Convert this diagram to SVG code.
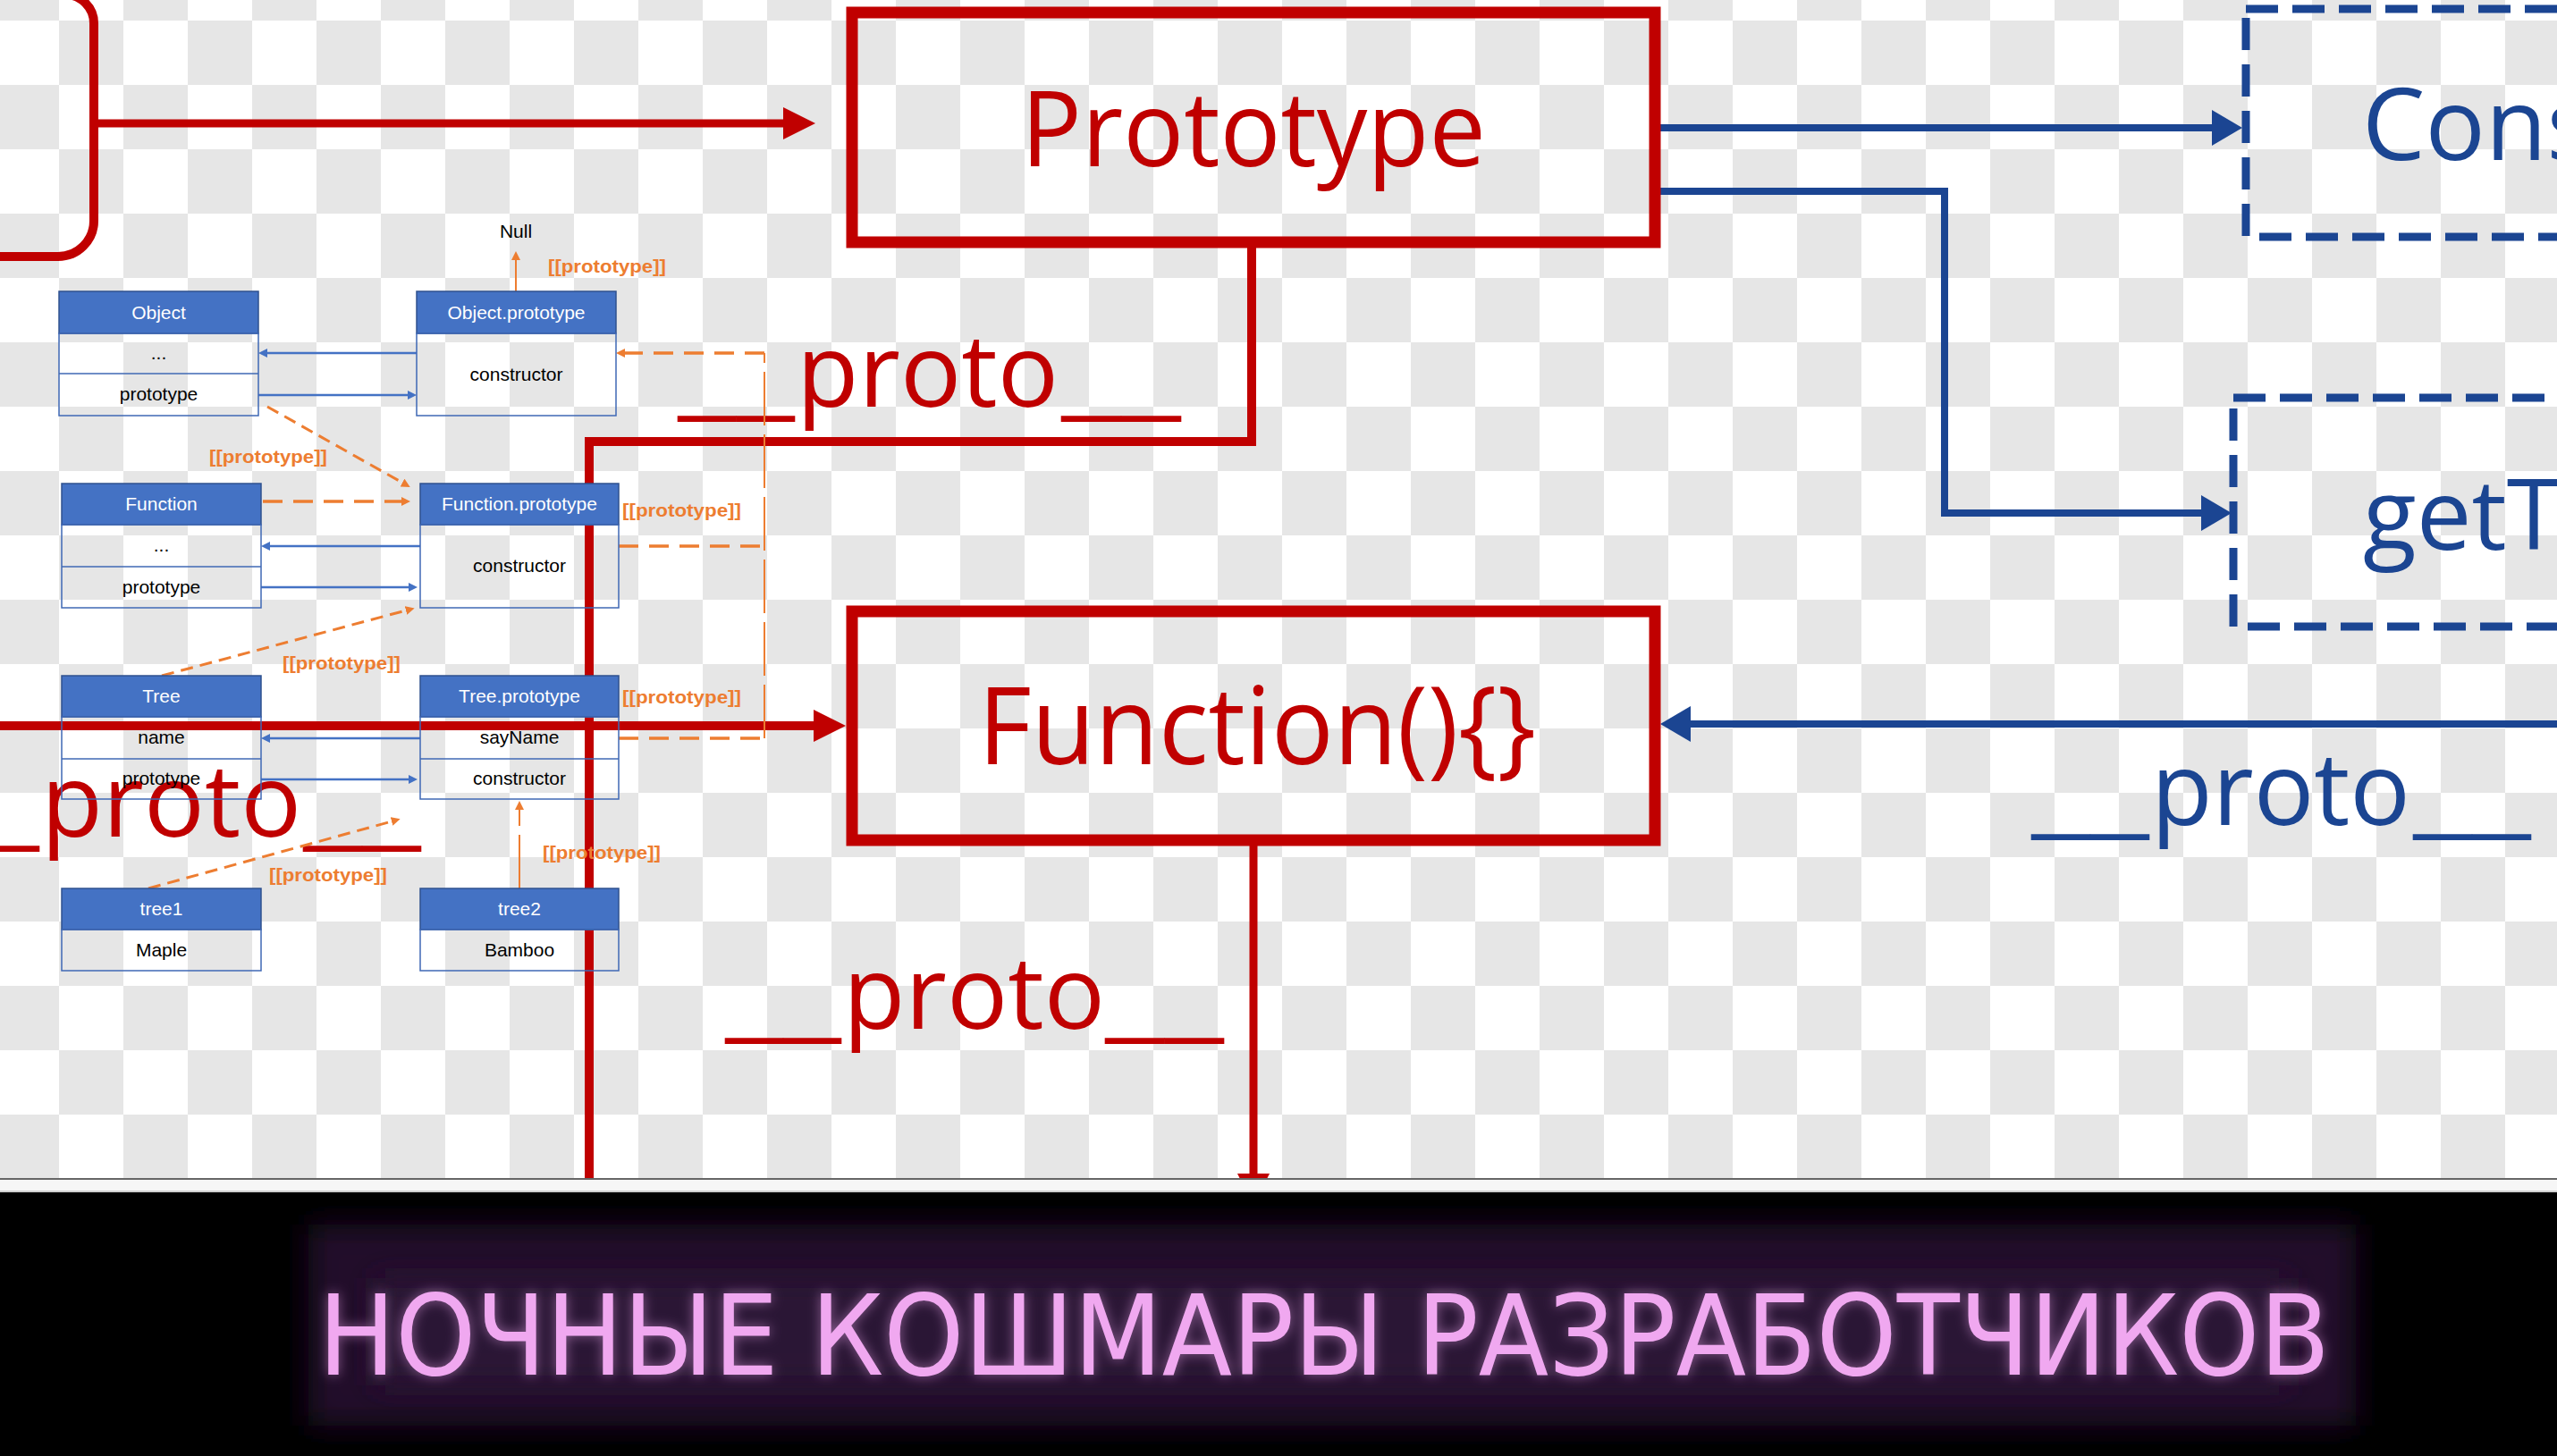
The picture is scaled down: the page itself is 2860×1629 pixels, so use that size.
<svg xmlns="http://www.w3.org/2000/svg" width="2860" height="1629" viewBox="0 0 2860 1629">
<defs>
<style>
.red{fill:none;stroke:#C00000}
.blu{fill:none;stroke:#1B4592}
.hd{fill:#4472C4;stroke:#2F528F;stroke-width:1.5}
.bd{fill:none;stroke:#3F68B5;stroke-width:1.5}
.ht{font-family:"Liberation Sans",Arial,sans-serif;font-size:21px;fill:#fff;text-anchor:middle}
.ct{font-family:"Liberation Sans",Arial,sans-serif;font-size:21px;fill:#000;text-anchor:middle}
.lb{font-family:"Liberation Sans",Arial,sans-serif;font-weight:bold;font-size:21px;fill:#ED7D31}
.oa{fill:none;stroke:#ED7D31;stroke-width:3;stroke-dasharray:14 8}
.ov{fill:none;stroke:#ED7D31;stroke-width:2;stroke-dasharray:60 10}
.oh{fill:none;stroke:#ED7D31;stroke-width:3.5;stroke-dasharray:22 12}
.ba{fill:none;stroke:#4472C4;stroke-width:2.5}
.big{font-family:"Open Sans","Noto Sans",sans-serif}
</style>
<pattern id="chk" x="-6" y="-49" width="144" height="144" patternUnits="userSpaceOnUse">
<rect width="144" height="144" fill="#ffffff"/>
<rect width="72" height="72" fill="#e6e6e6"/>
<rect x="72" y="72" width="72" height="72" fill="#e6e6e6"/>
</pattern>
<marker id="arR" markerUnits="userSpaceOnUse" markerWidth="36" markerHeight="40" refX="0" refY="20" orient="auto" viewBox="0 0 36 40"><path d="M0,2 L36,20 L0,38 z" fill="#C00000"/></marker>
<marker id="arB" markerUnits="userSpaceOnUse" markerWidth="34" markerHeight="40" refX="0" refY="20" orient="auto" viewBox="0 0 34 40"><path d="M0,0 L34,20 L0,40 z" fill="#1B4592"/></marker>
<marker id="sb" markerUnits="userSpaceOnUse" markerWidth="10" markerHeight="10" refX="0" refY="5" orient="auto" viewBox="0 0 10 10"><path d="M0,0 L10,5 L0,10 z" fill="#4472C4"/></marker>
<marker id="so" markerUnits="userSpaceOnUse" markerWidth="10" markerHeight="10" refX="0" refY="5" orient="auto" viewBox="0 0 10 10"><path d="M0,0 L10,5 L0,10 z" fill="#ED7D31"/></marker>
<filter id="glow" x="-10%" y="-60%" width="120%" height="220%"><feGaussianBlur stdDeviation="16"/></filter>
<filter id="tglow" x="-5%" y="-40%" width="110%" height="180%"><feGaussianBlur in="SourceGraphic" stdDeviation="7" result="b"/><feComponentTransfer in="b" result="c"><feFuncA type="linear" slope="0.5"/></feComponentTransfer><feMerge><feMergeNode in="c"/><feMergeNode in="SourceGraphic"/></feMerge></filter>
</defs>

<rect x="0" y="0" width="2860" height="1319" fill="url(#chk)"/>

<g id="connectors">
<path class="red" stroke-width="10" d="M0,287 L65,287 A40,40 0 0 0 105,247 L105,26 A32,32 0 0 0 73,-6 L0,-6"/>
<line class="red" stroke-width="9" x1="105" y1="138" x2="876" y2="138" marker-end="url(#arR)"/>
<path class="red" stroke-width="10" d="M1400,271 V494 H659 V1319"/>
<line class="red" stroke-width="10" x1="0" y1="812" x2="910" y2="812" marker-end="url(#arR)"/>
<line class="red" stroke-width="9" x1="1402" y1="940" x2="1402" y2="1313" marker-end="url(#arR)"/>
<line class="blu" stroke-width="8" x1="1857" y1="143" x2="2474" y2="143" marker-end="url(#arB)"/>
<path class="blu" stroke-width="8" d="M1857,214 H2175 V574 H2462" marker-end="url(#arB)"/>
<line class="blu" stroke-width="8" x1="2860" y1="810" x2="1891" y2="810" marker-end="url(#arB)"/>
</g>

<g id="prototype">
<rect class="red" stroke-width="13" x="953" y="14" width="898" height="257"/>
<text class="big" x="1402" y="186" font-size="118" text-anchor="middle" textLength="520" lengthAdjust="spacingAndGlyphs" fill="#C00000">Prototype</text>
</g>

<g id="function-box">
<rect class="red" stroke-width="13" x="953" y="684" width="898" height="256"/>
<text class="big" x="1406" y="855" font-size="120" text-anchor="middle" textLength="624" lengthAdjust="spacingAndGlyphs" fill="#C00000">Function(){}</text>
</g>

<g id="constructor-box">
<rect class="blu" stroke-width="9" stroke-dasharray="36 16" x="2512" y="10" width="600" height="255"/>
<text class="big" x="2642" y="179" font-size="112" fill="#1B4592">Cons</text>
</g>

<g id="get-box">
<rect class="blu" stroke-width="9" stroke-dasharray="36 16" x="2498" y="445" width="600" height="256"/>
<text class="big" x="2643" y="615" font-size="110" fill="#1B4592">getT</text>
</g>

<g id="proto-labels">
<text class="big" y="455" font-size="113" fill="#C00000"><tspan x="758" textLength="131" lengthAdjust="spacingAndGlyphs">__</tspan><tspan x="891" textLength="293" lengthAdjust="spacingAndGlyphs">proto</tspan><tspan x="1187" textLength="134" lengthAdjust="spacingAndGlyphs">__</tspan></text>
<text class="big" y="1151" font-size="113" fill="#C00000"><tspan x="811" textLength="130" lengthAdjust="spacingAndGlyphs">__</tspan><tspan x="943" textLength="293" lengthAdjust="spacingAndGlyphs">proto</tspan><tspan x="1236" textLength="133" lengthAdjust="spacingAndGlyphs">__</tspan></text>
<text class="big" y="936" font-size="113" fill="#C00000"><tspan x="-86" textLength="130" lengthAdjust="spacingAndGlyphs">__</tspan><tspan x="46" textLength="291" lengthAdjust="spacingAndGlyphs">proto</tspan><tspan x="339" textLength="132" lengthAdjust="spacingAndGlyphs">__</tspan></text>
<text class="big" y="923" font-size="113" fill="#1B4592"><tspan x="2272" textLength="132" lengthAdjust="spacingAndGlyphs">__</tspan><tspan x="2406" textLength="290" lengthAdjust="spacingAndGlyphs">proto</tspan><tspan x="2699" textLength="132" lengthAdjust="spacingAndGlyphs">__</tspan></text>
</g>

<g id="mini-connectors">
<line class="ba" x1="466" y1="395" x2="299" y2="395" marker-end="url(#sb)"/>
<line class="ba" x1="289" y1="442" x2="456" y2="442" marker-end="url(#sb)"/>
<line class="ba" x1="470" y1="611" x2="302" y2="611" marker-end="url(#sb)"/>
<line class="ba" x1="292" y1="657" x2="457" y2="657" marker-end="url(#sb)"/>
<line class="ba" x1="470" y1="826" x2="302" y2="826" marker-end="url(#sb)"/>
<line class="ba" x1="292" y1="872" x2="457" y2="872" marker-end="url(#sb)"/>
<line class="ov" stroke-dasharray="14 6" x1="577" y1="326" x2="577" y2="291" marker-end="url(#so)"/>
<line class="oa" x1="299" y1="455" x2="450" y2="540" marker-end="url(#so)"/>
<line class="oh" x1="294" y1="561" x2="449" y2="561" marker-end="url(#so)"/>
<line class="oa" x1="181" y1="756" x2="454" y2="683" marker-end="url(#so)"/>
<line class="oa" x1="166" y1="994" x2="438" y2="919" marker-end="url(#so)"/>
<line class="ov" stroke-dasharray="30 10" x1="581" y1="994" x2="581" y2="906" marker-end="url(#so)"/>
<line class="oh" x1="692" y1="826" x2="855" y2="826"/>
<line class="ov" x1="855" y1="826" x2="855" y2="395"/>
<line class="oh" x1="855" y1="395" x2="699" y2="395" marker-end="url(#so)"/>
<line class="oh" x1="692" y1="611" x2="855" y2="611"/>
<text class="ct" x="577" y="266" font-size="22">Null</text>
<text class="lb" x="613" y="305" textLength="132" lengthAdjust="spacingAndGlyphs">[[prototype]]</text>
<text class="lb" x="234" y="518" textLength="132" lengthAdjust="spacingAndGlyphs">[[prototype]]</text>
<text class="lb" x="696" y="578" textLength="133" lengthAdjust="spacingAndGlyphs">[[prototype]]</text>
<text class="lb" x="316" y="749" textLength="132" lengthAdjust="spacingAndGlyphs">[[prototype]]</text>
<text class="lb" x="696" y="787" textLength="133" lengthAdjust="spacingAndGlyphs">[[prototype]]</text>
<text class="lb" x="607" y="961" textLength="132" lengthAdjust="spacingAndGlyphs">[[prototype]]</text>
<text class="lb" x="301" y="986" textLength="132" lengthAdjust="spacingAndGlyphs">[[prototype]]</text>
</g>

<g id="object">
<rect class="hd" x="66" y="326" width="223" height="47"/>
<rect class="bd" x="66" y="373" width="223" height="92"/>
<line class="bd" x1="66" y1="418" x2="289" y2="418"/>
<text class="ht" x="177.5" y="357">Object</text>
<text class="ct" x="177.5" y="402">...</text>
<text class="ct" x="177.5" y="448">prototype</text>
</g>
<g id="object-prototype">
<rect class="hd" x="466" y="326" width="223" height="47"/>
<rect class="bd" x="466" y="373" width="223" height="92"/>
<text class="ht" x="577.5" y="357">Object.prototype</text>
<text class="ct" x="577.5" y="426">constructor</text>
</g>
<g id="function">
<rect class="hd" x="69" y="541" width="223" height="46"/>
<rect class="bd" x="69" y="587" width="223" height="93"/>
<line class="bd" x1="69" y1="634" x2="292" y2="634"/>
<text class="ht" x="180.5" y="571">Function</text>
<text class="ct" x="180.5" y="617">...</text>
<text class="ct" x="180.5" y="664">prototype</text>
</g>
<g id="function-prototype">
<rect class="hd" x="470" y="541" width="222" height="46"/>
<rect class="bd" x="470" y="587" width="222" height="93"/>
<text class="ht" x="581" y="571">Function.prototype</text>
<text class="ct" x="581" y="640">constructor</text>
</g>
<g id="tree">
<rect class="hd" x="69" y="756" width="223" height="46"/>
<rect class="bd" x="69" y="802" width="223" height="92"/>
<line class="bd" x1="69" y1="849" x2="292" y2="849"/>
<text class="ht" x="180.5" y="786">Tree</text>
<text class="ct" x="180.5" y="832">name</text>
<text class="ct" x="180.5" y="878">prototype</text>
</g>
<g id="tree-prototype">
<rect class="hd" x="470" y="756" width="222" height="46"/>
<rect class="bd" x="470" y="802" width="222" height="92"/>
<line class="bd" x1="470" y1="849" x2="692" y2="849"/>
<text class="ht" x="581" y="786">Tree.prototype</text>
<text class="ct" x="581" y="832">sayName</text>
<text class="ct" x="581" y="878">constructor</text>
</g>
<g id="tree1">
<rect class="hd" x="69" y="994" width="223" height="46"/>
<rect class="bd" x="69" y="1040" width="223" height="46"/>
<text class="ht" x="180.5" y="1024">tree1</text>
<text class="ct" x="180.5" y="1070">Maple</text>
</g>
<g id="tree2">
<rect class="hd" x="470" y="994" width="222" height="46"/>
<rect class="bd" x="470" y="1040" width="222" height="46"/>
<text class="ht" x="581" y="1024">tree2</text>
<text class="ct" x="581" y="1070">Bamboo</text>
</g>

<g id="banner">
<rect x="0" y="1318" width="2860" height="2" fill="#666"/>
<rect x="0" y="1320" width="2860" height="13" fill="#f6f6f6"/>
<rect x="0" y="1332" width="2860" height="2" fill="#cfcfcf"/>
<rect x="0" y="1334" width="2860" height="295" fill="#000"/>
<rect x="345" y="1370" width="2290" height="225" fill="#22102a" filter="url(#glow)"/>
<rect x="420" y="1430" width="2140" height="120" fill="#2c1634" filter="url(#glow)"/>
<text x="356" y="1538" font-size="125" textLength="2250" lengthAdjust="spacingAndGlyphs" fill="#F0A8F0" filter="url(#tglow)" font-family="'DejaVu Sans Condensed','DejaVu Sans',sans-serif">НОЧНЫЕ КОШМАРЫ РАЗРАБОТЧИКОВ</text>
</g>
</svg>
